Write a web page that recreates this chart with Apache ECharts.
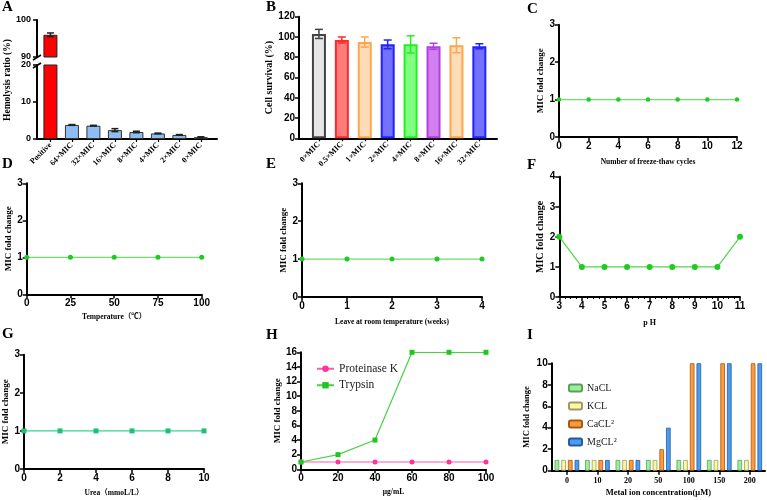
<!DOCTYPE html>
<html>
<head>
<meta charset="utf-8">
<script src="https://cdn.jsdelivr.net/npm/echarts@6/dist/echarts.min.js"></script>
<style>
  html, body { margin: 0; padding: 0; background: #fff; }
  #main { width: 767px; height: 500px; }
</style>
</head>
<body>
<div id="main"></div>
<script>
// A: hemolysis
const aCats = ['Positive', '64×MIC', '32×MIC', '16×MIC', '8×MIC', '4×MIC', '2×MIC', '0×MIC'];
const aMeans = [96, 3.8, 3.6, 2.4, 1.9, 1.5, 1.1, 0.5];
const aErr = [0.5, 0.1, 0.1, 0.4, 0.2, 0.1, 0.1, 0.1];
// B: cell survival
const bCats = ['0×MIC', '0.5×MIC', '1×MIC', '2×MIC', '4×MIC', '8×MIC', '16×MIC', '32×MIC'];
const bMeans = [103, 97, 95, 92.7, 92.7, 90.8, 91.8, 90.8];
const bErr = [4.5, 3, 5, 4.3, 8.5, 3, 7.4, 2.5];
// C-G: stability
const freezeX = [0, 2, 4, 6, 8, 10, 12];
const freezeY = [1, 1, 1, 1, 1, 1, 1];
const tempX = [0, 25, 50, 75, 100];
const tempY = [1, 1, 1, 1, 1];
const weekX = [0, 1, 2, 3, 4];
const weekY = [1, 1, 1, 1, 1];
const phX = [3, 4, 5, 6, 7, 8, 9, 10, 11];
const phY = [2, 1, 1, 1, 1, 1, 1, 1, 2];
const ureaX = [0, 2, 4, 6, 8, 10];
const ureaY = [1, 1, 1, 1, 1, 1];
// H: enzymes
const enzX = [0, 20, 40, 60, 80, 100];
const protK = [1, 1, 1, 1, 1, 1];
const trypsin = [1, 2, 4, 16, 16, 16];
// I: metal ions
const ionCats = ['0', '10', '20', '50', '100', '150', '200'];
const naCl = [1, 1, 1, 1, 1, 1, 1];
const kCl = [1, 1, 1, 1, 1, 1, 1];
const caCl = [1, 1, 1, 2, 10, 10, 10];
const mgCl = [1, 1, 1, 4, 10, 10, 10];

const SERIF = '"Liberation Serif", "Times New Roman", "Noto Sans CJK SC", serif';
const SANS = '"Liberation Sans", Arial, sans-serif';

// B bar styles
const bFill = ['#e6e6e6', '#ff7c7c', '#ffdcb8', '#7272ff', '#80ff80', '#d280f0', '#ffdcb8', '#7272ff'];
const bLine = ['#444444', '#ff2a2a', '#ffa64d', '#2222ff', '#22ee22', '#b040e0', '#ffa64d', '#2222ff'];

function lineAxis() {
  return { show: true, onZero: false, lineStyle: { color: '#000', width: 2 } };
}
function tick() {
  return { show: true, length: 4, lineStyle: { color: '#000', width: 1.5 } };
}
function numLabel(size) {
  return { color: '#000', fontSize: size || 10, fontWeight: 'bold', fontFamily: SANS, margin: 4 };
}
function nameStyle(size) {
  return { color: '#000', fontSize: size, fontWeight: 'bold', fontFamily: SERIF };
}

function xVal(gi, min, max, interval, name, gap, size) {
  return {
    gridIndex: gi, type: 'value', min: min, max: max, interval: interval,
    axisLine: lineAxis(), axisTick: tick(), axisLabel: numLabel(10), splitLine: { show: false },
    name: name, nameLocation: 'middle', nameGap: gap, nameTextStyle: nameStyle(size)
  };
}
function yVal(gi, min, max, interval, name, gap, size) {
  return {
    gridIndex: gi, type: 'value', min: min, max: max, interval: interval,
    axisLine: lineAxis(), axisTick: tick(), axisLabel: numLabel(10), splitLine: { show: false },
    name: name, nameLocation: 'middle', nameGap: gap, nameRotate: 90, nameTextStyle: nameStyle(size)
  };
}
function xCatVal(gi, min, max, cats, show) {
  const idx = cats.map((c, i) => i);
  return {
    gridIndex: gi, type: 'value', min: min, max: max, show: show,
    axisLine: lineAxis(),
    axisTick: { show: true, length: 3, customValues: idx, lineStyle: { color: '#000', width: 1.2 } },
    axisLabel: { customValues: idx, formatter: v => cats[Math.round(v)], rotate: 45, margin: 5,
      color: '#000', fontSize: 8, fontWeight: 'bold', fontFamily: SERIF },
    splitLine: { show: false }
  };
}

function errRender(cap) {
  return function (params, api) {
    const x = api.value(0), m = api.value(1), e = api.value(2);
    const top = api.coord([x, m + e]);
    const bot = api.coord([x, m - e]);
    const c = api.visual('color');
    const st = { stroke: c, lineWidth: 1.5 };
    return {
      type: 'group', children: [
        { type: 'line', shape: { x1: top[0], y1: top[1], x2: bot[0], y2: bot[1] }, style: st },
        { type: 'line', shape: { x1: top[0] - cap, y1: top[1], x2: top[0] + cap, y2: top[1] }, style: st },
        { type: 'line', shape: { x1: bot[0] - cap, y1: bot[1], x2: bot[0] + cap, y2: bot[1] }, style: st }
      ]
    };
  };
}

function lineSeries(gi, xs, ys, lineColor, dotColor, symbol, size, name) {
  return {
    name: name, type: 'line', xAxisIndex: gi, yAxisIndex: gi,
    data: xs.map((x, i) => [x, ys[i]]),
    symbol: symbol, symbolSize: size,
    lineStyle: { color: lineColor, width: 1.2 },
    itemStyle: { color: dotColor },
    z: 5
  };
}

const aRed = { color: '#ff0000', borderColor: '#222', borderWidth: 1 };
const aBlue = { color: '#8fbcf2', borderColor: '#333', borderWidth: 1 };

const grids = [
  { left: 37, top: 20, width: 180, height: 37 },      // A top
  { left: 37, top: 65, width: 180, height: 74 },      // A bottom
  { left: 299, top: 16.7, width: 198, height: 121.6 },// B
  { left: 559, top: 24.7, width: 178, height: 112.3 },// C
  { left: 26.7, top: 183.3, width: 175, height: 111 },// D
  { left: 302, top: 183.3, width: 180, height: 113.7 },// E
  { left: 559.3, top: 176.7, width: 180.7, height: 120.3 },// F
  { left: 24, top: 354.7, width: 180, height: 114.3 },// G
  { left: 301, top: 352.3, width: 185, height: 117 }, // H
  { left: 551.7, top: 363.3, width: 213.3, height: 107.4 } // I
];

const fX = xVal(6, 3, 11, 1, 'p H', 22, 8);
fX.minorTick = { show: true, splitNumber: 4, length: 2, lineStyle: { color: '#000', width: 1 } };

const xAxes = [
  xCatVal(0, -0.625, 7.75, aCats, false),
  xCatVal(1, -0.625, 7.75, aCats, true),
  xCatVal(2, -0.87, 7.77, bCats, true),
  xVal(3, 0, 12, 2, 'Number of freeze-thaw cycles', 21, 7.5),
  xVal(4, 0, 100, 25, 'Temperature（℃）', 19, 7.5),
  xVal(5, 0, 4, 1, 'Leave at room temperature (weeks)', 21, 7.5),
  fX,
  xVal(7, 0, 10, 2, 'Urea（mmoL/L）', 20, 7.5),
  xVal(8, 0, 100, 20, 'μg/mL', 19, 7.5),
  {
    gridIndex: 9, type: 'category', data: ionCats,
    axisLine: lineAxis(),
    axisTick: { show: true, alignWithLabel: true, length: 4, lineStyle: { color: '#000', width: 1.5 } },
    axisLabel: { color: '#000', fontSize: 8, fontWeight: 'bold', fontFamily: SERIF, margin: 6 },
    name: 'Metal ion concentration(μM)', nameLocation: 'middle', nameGap: 18, nameTextStyle: nameStyle(8.5)
  }
];

const aTopY = yVal(0, 90, 100, 10, '', 0, 9);
aTopY.axisLabel.fontSize = 9;
aTopY.axisLabel.margin = 6;
const aBotY = yVal(1, 0, 20, 10, '', 0, 9);
aBotY.axisLabel.fontSize = 9;
aBotY.axisLabel.margin = 6;

const yAxes = [
  aTopY,
  aBotY,
  yVal(2, 0, 120, 20, 'Cell survival (%)', 22, 10),
  yVal(3, 0, 3, 1, 'MIC fold change', 14, 9),
  yVal(4, 0, 3, 1, 'MIC fold change', 14, 9),
  yVal(5, 0, 3, 1, 'MIC fold change', 14, 9),
  yVal(6, 0, 4, 1, 'MIC fold change', 13, 10),
  yVal(7, 0, 3, 1, 'MIC fold change', 13, 9),
  yVal(8, 0, 16, 2, 'MIC fold change', 19, 9),
  yVal(9, 0, 10, 2, 'MIC fold change', 21, 8.5)
];

const series = [
  // A top segment (only values above the break)
  {
    type: 'bar', xAxisIndex: 0, yAxisIndex: 0, barWidth: 14,
    data: aMeans.map((m, i) => m > 90 ? { value: [i, m], itemStyle: i === 0 ? aRed : aBlue } : null).filter(d => d)
  },
  {
    type: 'custom', xAxisIndex: 0, yAxisIndex: 0, renderItem: errRender(3.5), z: 6,
    data: aMeans.map((m, i) => m > 90 ? { value: [i, m, aErr[i]], itemStyle: { color: '#222' } } : null).filter(d => d)
  },
  // A bottom segment
  {
    type: 'bar', xAxisIndex: 1, yAxisIndex: 1, barWidth: 14, clip: true,
    data: aMeans.map((m, i) => ({ value: [i, m], itemStyle: i === 0 ? aRed : aBlue }))
  },
  {
    type: 'custom', xAxisIndex: 1, yAxisIndex: 1, renderItem: errRender(3.5), z: 6,
    data: aMeans.map((m, i) => m <= 20 ? { value: [i, m, aErr[i]], itemStyle: { color: '#222' } } : null).filter(d => d)
  },
  // B
  {
    type: 'bar', xAxisIndex: 2, yAxisIndex: 2, barWidth: 14,
    data: bMeans.map((m, i) => ({ value: [i, m], itemStyle: { color: bFill[i], borderColor: bLine[i], borderWidth: 2 } }))
  },
  {
    type: 'custom', xAxisIndex: 2, yAxisIndex: 2, renderItem: errRender(4), z: 6,
    data: bMeans.map((m, i) => ({ value: [i, m, bErr[i]], itemStyle: { color: bLine[i] } }))
  },
  lineSeries(3, freezeX, freezeY, '#6ee06e', '#1fcb1f', 'circle', 4.5),
  lineSeries(4, tempX, tempY, '#6ee06e', '#1fcb1f', 'circle', 5),
  lineSeries(5, weekX, weekY, '#6ee06e', '#1fcb1f', 'circle', 5),
  lineSeries(6, phX, phY, '#4fd64f', '#1fcb1f', 'circle', 6),
  lineSeries(7, ureaX, ureaY, '#3ccf95', '#1fbf78', 'rect', 5),
  lineSeries(8, enzX, protK, '#ff5aac', '#ff3399', 'circle', 5, 'Proteinase K'),
  lineSeries(8, enzX, trypsin, '#44d444', '#22c422', 'rect', 5, 'Trypsin')
];

const ionSets = [
  ['NaCL', naCl, '#9cf09c', '#5aa05a'],
  ['KCL', kCl, '#fbf9a0', '#9a9a6a'],
  ['CaCL²', caCl, '#ff9a3c', '#a65a10'],
  ['MgCL²', mgCl, '#4a9cf2', '#2a5a9a']
];
ionSets.forEach(s => {
  series.push({
    name: s[0], type: 'bar', xAxisIndex: 9, yAxisIndex: 9, data: s[1],
    barWidth: 4.6, barGap: '45%',
    itemStyle: { color: s[2], borderColor: s[3], borderWidth: 0.8 }
  });
});

function letter(t, x, y) {
  return { type: 'text', left: x, top: y, style: { text: t, font: 'bold 15px ' + SERIF, fill: '#000' } };
}

const option = {
  animation: false,
  backgroundColor: '#fff',
  grid: grids,
  xAxis: xAxes,
  yAxis: yAxes,
  series: series,
  legend: [
    {
      data: ['Proteinase K', 'Trypsin'], orient: 'vertical', left: 311, top: 358,
      itemWidth: 17, itemHeight: 8, itemGap: 5,
      textStyle: { fontFamily: SERIF, fontSize: 11.5, color: '#222' }
    },
    {
      data: ['NaCL', 'KCL', 'CaCL²', 'MgCL²'], orient: 'vertical', left: 563, top: 378,
      itemWidth: 13, itemHeight: 7, itemGap: 8,
      textStyle: { fontFamily: SERIF, fontSize: 10, color: '#222' }
    }
  ],
  graphic: [
    letter('A', 2, 0), letter('B', 266, 0), letter('C', 527, 2),
    letter('D', 2, 157), letter('E', 266, 157), letter('F', 527, 158),
    letter('G', 2, 327), letter('H', 266, 328), letter('I', 527, 328),
    {
      type: 'text', x: 8, y: 80, rotation: Math.PI / 2,
      style: { text: 'Hemolysis ratio (%)', font: 'bold 9.5px ' + SERIF, fill: '#000', align: 'center', verticalAlign: 'middle' }
    },
    // axis break marks
    { type: 'line', shape: { x1: 33, y1: 60, x2: 41, y2: 55 }, style: { stroke: '#000', lineWidth: 1.5 } },
    { type: 'line', shape: { x1: 33, y1: 68, x2: 41, y2: 63 }, style: { stroke: '#000', lineWidth: 1.5 } }
  ]
};

const chart = echarts.init(document.getElementById('main'), null, { renderer: 'canvas' });
chart.setOption(option);
</script>
</body>
</html>
